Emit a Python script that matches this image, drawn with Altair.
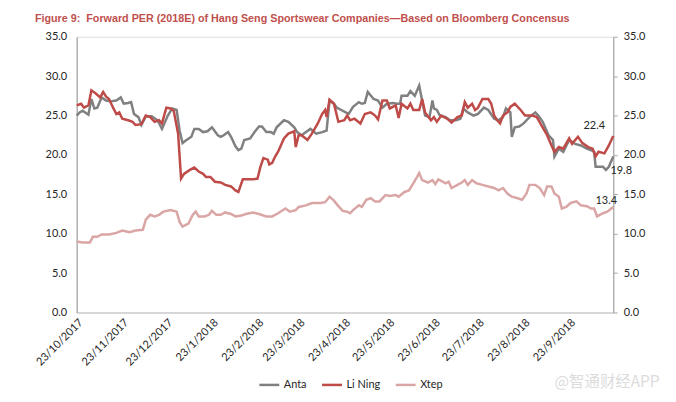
import altair as alt
import pandas as pd

series_names = ["Anta", "Li Ning", "Xtep"]
series_colors = ["#808080", "#be4b48", "#d9a6a5"]

anta_dates = [
    "2017-10-23", "2017-10-25", "2017-10-27", "2017-10-31", "2017-11-02", "2017-11-04", "2017-11-06",
    "2017-11-09", "2017-11-12", "2017-11-15", "2017-11-19", "2017-11-22", "2017-11-24", "2017-11-27",
    "2017-11-29", "2017-12-01", "2017-12-04", "2017-12-06", "2017-12-09", "2017-12-13", "2017-12-17",
    "2017-12-20", "2017-12-24", "2017-12-27", "2017-12-30", "2018-01-01", "2018-01-03", "2018-01-05",
    "2018-01-09", "2018-01-11", "2018-01-14", "2018-01-17", "2018-01-20", "2018-01-23", "2018-01-27",
    "2018-01-29", "2018-01-31", "2018-02-03", "2018-02-05", "2018-02-08", "2018-02-10", "2018-02-12",
    "2018-02-14", "2018-02-18", "2018-02-21", "2018-02-24", "2018-02-26", "2018-03-01", "2018-03-04",
    "2018-03-06", "2018-03-08", "2018-03-13", "2018-03-16", "2018-03-20", "2018-03-22", "2018-03-25",
    "2018-03-28", "2018-03-31", "2018-04-04", "2018-04-08", "2018-04-11", "2018-04-13", "2018-04-16",
    "2018-04-18", "2018-04-21", "2018-04-24", "2018-04-26", "2018-04-29", "2018-05-03", "2018-05-05",
    "2018-05-07", "2018-05-09", "2018-05-13", "2018-05-16", "2018-05-19", "2018-05-22", "2018-05-26",
    "2018-05-29", "2018-05-31", "2018-06-01", "2018-06-05", "2018-06-07", "2018-06-10", "2018-06-13",
    "2018-06-15", "2018-06-17", "2018-06-20", "2018-06-22", "2018-06-23", "2018-06-25", "2018-06-27",
    "2018-07-01", "2018-07-04", "2018-07-08", "2018-07-11", "2018-07-13", "2018-07-16", "2018-07-20",
    "2018-07-23", "2018-07-27", "2018-07-30", "2018-08-03", "2018-08-06", "2018-08-09", "2018-08-11",
    "2018-08-14", "2018-08-15", "2018-08-17", "2018-08-20", "2018-08-23", "2018-08-25", "2018-08-27",
    "2018-08-31", "2018-09-02", "2018-09-05", "2018-09-09", "2018-09-12", "2018-09-13", "2018-09-16",
    "2018-09-19", "2018-09-23", "2018-09-27", "2018-10-01", "2018-10-05", "2018-10-08", "2018-10-10",
    "2018-10-11", "2018-10-13", "2018-10-16", "2018-10-18", "2018-10-20", "2018-10-23",
]
anta_values = [
    25.0, 25.4, 25.6, 25.1, 27.1, 25.9, 26.0,
    27.3, 26.9, 26.8, 26.9, 27.3, 26.5, 26.6,
    26.7, 25.2, 24.8, 23.8, 24.9, 24.9, 24.4,
    23.3, 25.0, 25.9, 25.7, 23.1, 21.5, 21.8,
    22.3, 23.3, 23.3, 22.9, 23.0, 23.5, 22.5,
    22.3, 22.5, 22.9, 22.3, 21.1, 20.6, 20.8,
    21.9, 22.1, 22.9, 23.6, 23.6, 22.9, 22.9,
    22.7, 23.5, 24.4, 24.2, 23.5, 22.9, 22.5,
    22.9, 23.3, 22.7, 22.9, 23.1, 26.9, 26.5,
    26.0, 25.7, 25.4, 25.2, 26.1, 26.7, 26.5,
    26.6, 28.0, 27.1, 26.9, 26.0, 26.5, 26.6,
    26.5, 26.5, 27.5, 27.5, 28.1, 27.5, 28.8,
    26.9, 25.0, 24.8, 26.9, 25.9, 25.7, 25.0,
    24.8, 24.4, 24.4, 24.6, 25.9, 25.4, 25.0,
    25.2, 26.0, 25.7, 24.6, 24.4, 24.8, 25.9,
    25.4, 22.3, 23.5, 23.6, 24.0, 24.4, 24.8,
    25.4, 25.0, 24.2, 22.5, 21.9, 19.8, 20.8,
    20.4, 21.9, 21.4, 21.2, 20.8, 20.6, 20.4,
    18.5, 18.5, 18.5, 18.1, 18.5, 19.8,
]

lining_dates = [
    "2017-10-23", "2017-10-26", "2017-10-28", "2017-10-31", "2017-11-02", "2017-11-05", "2017-11-08",
    "2017-11-10", "2017-11-12", "2017-11-14", "2017-11-17", "2017-11-19", "2017-11-21", "2017-11-23",
    "2017-11-27", "2017-11-30", "2017-12-02", "2017-12-06", "2017-12-09", "2017-12-12", "2017-12-15",
    "2017-12-18", "2017-12-20", "2017-12-23", "2017-12-26", "2017-12-28", "2017-12-31", "2018-01-02",
    "2018-01-04", "2018-01-08", "2018-01-11", "2018-01-14", "2018-01-17", "2018-01-19", "2018-01-22",
    "2018-01-25", "2018-01-29", "2018-02-01", "2018-02-05", "2018-02-08", "2018-02-10", "2018-02-13",
    "2018-02-16", "2018-02-20", "2018-02-23", "2018-02-25", "2018-02-27", "2018-03-02", "2018-03-03",
    "2018-03-05", "2018-03-07", "2018-03-09", "2018-03-13", "2018-03-16", "2018-03-20", "2018-03-21",
    "2018-03-23", "2018-03-25", "2018-03-29", "2018-04-01", "2018-04-05", "2018-04-08", "2018-04-10",
    "2018-04-11", "2018-04-13", "2018-04-16", "2018-04-19", "2018-04-23", "2018-04-25", "2018-04-27",
    "2018-04-30", "2018-05-04", "2018-05-07", "2018-05-11", "2018-05-14", "2018-05-16", "2018-05-19",
    "2018-05-22", "2018-05-24", "2018-05-28", "2018-05-30", "2018-06-01", "2018-06-05", "2018-06-07",
    "2018-06-09", "2018-06-13", "2018-06-15", "2018-06-17", "2018-06-21", "2018-06-23", "2018-06-25",
    "2018-06-28", "2018-07-02", "2018-07-05", "2018-07-09", "2018-07-12", "2018-07-14", "2018-07-16",
    "2018-07-19", "2018-07-21", "2018-07-23", "2018-07-26", "2018-07-30", "2018-08-01", "2018-08-03",
    "2018-08-05", "2018-08-07", "2018-08-09", "2018-08-12", "2018-08-14", "2018-08-17", "2018-08-21",
    "2018-08-24", "2018-08-29", "2018-09-01", "2018-09-04", "2018-09-08", "2018-09-11", "2018-09-13",
    "2018-09-16", "2018-09-19", "2018-09-23", "2018-09-25", "2018-09-29", "2018-10-02", "2018-10-06",
    "2018-10-09", "2018-10-11", "2018-10-13", "2018-10-17", "2018-10-20", "2018-10-23",
]
lining_values = [
    26.3, 26.5, 26.0, 26.3, 28.2, 27.8, 27.3,
    28.0, 27.4, 27.1, 25.9, 25.2, 25.4, 24.6,
    24.4, 24.2, 23.8, 23.9, 25.0, 24.8, 24.2,
    24.4, 24.0, 26.0, 25.9, 25.6, 22.7, 17.0,
    17.6, 18.1, 18.4, 17.9, 17.6, 17.2, 17.2,
    16.6, 16.5, 16.2, 16.0, 15.5, 15.3, 16.9,
    16.9, 16.9, 17.0, 18.5, 19.6, 19.4, 18.8,
    19.0, 19.8, 20.4, 22.1, 22.7, 23.0, 21.0,
    22.5, 22.5, 21.9, 22.7, 24.0, 25.2, 25.7,
    24.8, 27.0, 26.5, 24.2, 24.4, 25.0, 24.4,
    24.6, 24.0, 25.2, 25.4, 25.0, 24.5, 26.9,
    26.9, 25.9, 26.3, 24.7, 26.5, 25.9, 26.5,
    25.7, 25.7, 27.1, 25.4, 24.4, 24.8, 24.2,
    25.0, 24.6, 24.1, 24.8, 25.0, 26.7, 26.0,
    26.5, 25.7, 26.0, 27.1, 27.1, 26.5, 25.0,
    24.4, 24.0, 25.0, 25.4, 26.1, 26.5, 25.7,
    25.0, 25.0, 24.8, 23.8, 22.5, 21.2, 20.4,
    21.0, 20.8, 22.1, 21.4, 22.3, 21.5, 21.0,
    20.8, 19.8, 20.4, 20.2, 21.2, 22.4,
]

xtep_dates = [
    "2017-10-23", "2017-10-27", "2017-11-01", "2017-11-03", "2017-11-06", "2017-11-09", "2017-11-14",
    "2017-11-19", "2017-11-23", "2017-11-28", "2017-12-02", "2017-12-07", "2017-12-09", "2017-12-12",
    "2017-12-15", "2017-12-18", "2017-12-21", "2017-12-26", "2017-12-30", "2018-01-01", "2018-01-03",
    "2018-01-07", "2018-01-10", "2018-01-12", "2018-01-14", "2018-01-18", "2018-01-21", "2018-01-23",
    "2018-01-26", "2018-01-29", "2018-02-01", "2018-02-05", "2018-02-08", "2018-02-12", "2018-02-15",
    "2018-02-20", "2018-02-24", "2018-03-01", "2018-03-05", "2018-03-09", "2018-03-14", "2018-03-17",
    "2018-03-21", "2018-03-23", "2018-03-28", "2018-04-01", "2018-04-07", "2018-04-10", "2018-04-13",
    "2018-04-16", "2018-04-19", "2018-04-22", "2018-04-25", "2018-04-27", "2018-04-29", "2018-05-03",
    "2018-05-05", "2018-05-08", "2018-05-11", "2018-05-14", "2018-05-17", "2018-05-21", "2018-05-24",
    "2018-05-28", "2018-05-30", "2018-06-03", "2018-06-06", "2018-06-09", "2018-06-13", "2018-06-15",
    "2018-06-19", "2018-06-22", "2018-06-24", "2018-06-26", "2018-06-28", "2018-07-01", "2018-07-03",
    "2018-07-05", "2018-07-09", "2018-07-12", "2018-07-14", "2018-07-16", "2018-07-19", "2018-07-22",
    "2018-07-26", "2018-07-30", "2018-08-03", "2018-08-06", "2018-08-09", "2018-08-12", "2018-08-15",
    "2018-08-19", "2018-08-22", "2018-08-25", "2018-08-27", "2018-08-31", "2018-09-03", "2018-09-06",
    "2018-09-08", "2018-09-11", "2018-09-13", "2018-09-16", "2018-09-18", "2018-09-21", "2018-09-24",
    "2018-09-28", "2018-10-01", "2018-10-05", "2018-10-08", "2018-10-10", "2018-10-12", "2018-10-16",
    "2018-10-19", "2018-10-23",
]
xtep_values = [
    9.0, 8.9, 8.9, 9.6, 9.6, 9.9, 9.9,
    10.1, 10.4, 10.2, 10.4, 10.5, 11.8, 12.4,
    12.2, 12.4, 12.8, 13.0, 12.8, 11.5, 10.9,
    11.3, 12.4, 12.8, 12.2, 12.2, 12.4, 12.9,
    12.4, 12.4, 12.7, 12.5, 12.2, 12.3, 12.5,
    12.7, 12.5, 12.2, 12.2, 12.6, 13.2, 12.8,
    13.0, 13.4, 13.6, 13.9, 13.9, 14.0, 14.7,
    14.2, 13.5, 12.9, 12.8, 12.6, 13.0, 13.6,
    13.4, 14.3, 14.5, 14.1, 14.1, 14.9, 14.8,
    14.9, 14.7, 15.3, 15.5, 16.4, 17.7, 16.8,
    16.5, 16.8, 16.3, 16.9, 16.7, 16.4, 16.6,
    15.8, 16.2, 16.5, 16.8, 16.2, 16.8, 16.4,
    16.2, 16.0, 15.8, 15.5, 15.8, 15.1, 14.7,
    14.5, 14.3, 15.1, 16.2, 16.2, 15.8, 14.9,
    16.0, 16.0, 15.1, 14.7, 13.2, 13.4, 13.9,
    14.1, 13.6, 13.5, 13.2, 13.2, 12.2, 12.6,
    12.8, 13.4,
]

end_labels = ["19.8", "22.4", "13.4"]
y_ticks = [0, 5, 10, 15, 20, 25, 30, 35]
x_tick_dates = [
    (2017, 10, 23), (2017, 11, 23), (2017, 12, 23), (2018, 1, 23), (2018, 2, 23), (2018, 3, 23),
    (2018, 4, 23), (2018, 5, 23), (2018, 6, 23), (2018, 7, 23), (2018, 8, 23), (2018, 9, 23),
]
title_text = "Figure 9:\u00a0 Forward PER (2018E) of Hang Seng Sportswear Companies\u2014Based on Bloomberg Concensus"
watermark = "@智通财经APP"

frames = []
for name, ds, vs in [("Anta", anta_dates, anta_values), ("Li Ning", lining_dates, lining_values),
                     ("Xtep", xtep_dates, xtep_values)]:
    frames.append(pd.DataFrame({"date": ds, "value": vs, "series": name}))
df = pd.concat(frames, ignore_index=True)

ends = pd.DataFrame({
    "date": [anta_dates[-1], lining_dates[-1], xtep_dates[-1]],
    "value": [anta_values[-1], lining_values[-1], xtep_values[-1]],
    "series": series_names,
    "label": end_labels,
})

x_domain = [alt.DateTime(year=2017, month=10, date=23, utc=True),
            alt.DateTime(year=2018, month=10, date=23, utc=True)]
x_values = [alt.DateTime(year=y, month=m, date=d, utc=True) for (y, m, d) in x_tick_dates]

x_enc = alt.X(
    "date:T",
    scale=alt.Scale(type="utc", domain=x_domain),
    axis=alt.Axis(
        values=x_values, labelExpr="utcFormat(datum.value, '%-d/%-m/%Y')", labelAngle=-45,
        labelAlign="right", labelBaseline="top", labelPadding=4, ticks=False,
        grid=False, domainColor="#bfbfbf", domainWidth=1.2, labelFont="Lato",
        labelFontSize=11, labelColor="#262626", title=None, labelOverlap=False,
    ),
)

y_scale = alt.Scale(domain=[0, 35], nice=False)

lines = alt.Chart(df).mark_line(strokeWidth=2.5, interpolate="linear").encode(
    x=x_enc,
    y=alt.Y("value:Q", scale=y_scale, axis=alt.Axis(
        values=y_ticks, format=".1f", ticks=False, grid=False, domainColor="#a6a6a6",
        domainWidth=1.2, labelPadding=10, labelFont="Lato", labelFontSize=11,
        labelColor="#262626", title=None)),
    color=alt.Color("series:N", scale=alt.Scale(domain=series_names, range=series_colors),
                    legend=alt.Legend(orient="none", legendX=182, legendY=338, direction="horizontal",
                                      title=None, symbolType="stroke", symbolStrokeWidth=2.5,
                                      symbolSize=400, labelFont="Lato", labelFontSize=11,
                                      labelColor="#262626", columnPadding=10, labelOffset=3)),
)

right_axis = alt.Axis(values=y_ticks, format=".1f", ticks=True, tickSize=4, tickColor="#a6a6a6",
                      grid=False, domainColor="#a6a6a6", domainWidth=1.2, labelPadding=6,
                      labelFont="Lato", labelFontSize=11, labelColor="#262626", title=None,
                      orient="right")

def end_text(name, dx, dy, align):
    return alt.Chart(ends).transform_filter(alt.datum.series == name).mark_text(
        dx=dx, dy=dy, align=align, font="Lato", fontSize=11, color="#262626"
    ).encode(
        x=alt.X("date:T", scale=alt.Scale(type="utc", domain=x_domain)),
        y=alt.Y("value:Q", scale=y_scale, axis=right_axis),
        text="label:N",
    )

labels = alt.layer(
    end_text("Li Ning", -19, -10, "center"),
    end_text("Anta", 8, 15, "center"),
    end_text("Xtep", -7, -6, "center"),
)

wm = alt.Chart(pd.DataFrame({"t": [watermark]})).mark_text(
    align="left", baseline="middle", font="Noto Sans CJK SC", fontSize=15.5, color="#dcdcdc"
).encode(x=alt.value(480), y=alt.value(347), text="t:N")

chart = alt.layer(lines, labels, wm).resolve_scale(y="independent").properties(
    width=539, height=277,
    padding={"left": 69, "top": 28, "right": 55, "bottom": 85},
    autosize=alt.AutoSizeParams(type="none"),
    title=alt.Title(title_text, anchor="start", frame="group", dx=-42, offset=7, fontSize=10.8,
                    font="Liberation Sans", fontWeight="bold", color="#c0504d"),
).configure_view(stroke=None).configure(background="white")

chart.save("out.html", embed_options={"renderer": "svg", "actions": False})
